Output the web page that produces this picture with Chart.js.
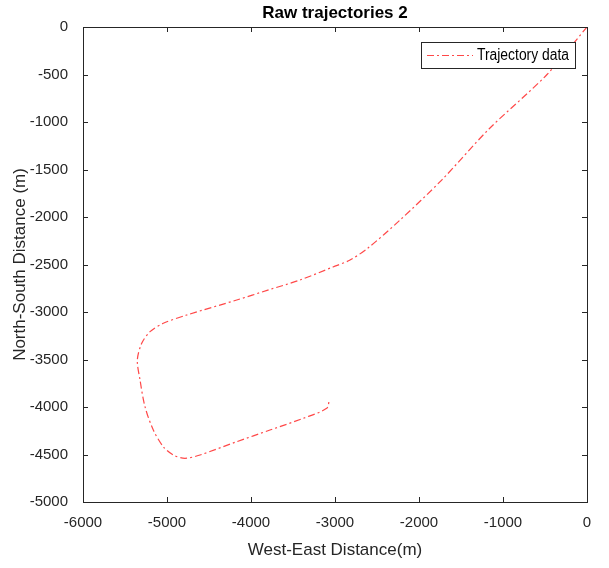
<!DOCTYPE html>
<html>
<head>
<meta charset="utf-8">
<script src="https://cdn.jsdelivr.net/npm/chart.js@4/dist/chart.umd.min.js"></script>
<style>
  html, body { margin: 0; padding: 0; background: #fff; }
  #wrap { width: 609px; height: 568px; }
</style>
</head>
<body>
<div id="wrap"><canvas id="trajChart" width="609" height="568"></canvas></div>
<script>
// trajectory points (metres)
const eastWest = [0, -476, -1167, -1730, -2226, -2607, -2821, -3024, -3417, -3800, -4170, -4766, -5044, -5202, -5301, -5353, -5321, -5262, -5163, -5044, -4925, -4786, -4607, -4170, -3774, -3377, -3099, -3068];
const northSouth = [0, -500, -1074, -1611, -2032, -2326, -2453, -2526, -2663, -2770, -2874, -3032, -3119, -3207, -3330, -3505, -3716, -3997, -4242, -4418, -4505, -4540, -4505, -4365, -4242, -4119, -4014, -3926];
const seriesName = 'Trajectory data';
const chartTitle = 'Raw trajectories 2';

const points = eastWest.map((x, i) => ({ x: x, y: northSouth[i] }));
const inkColor = '#262626';
const lineColor = 'rgba(255,40,40,0.85)';
const fontFamily = '"Liberation Sans", Arial, sans-serif';

// frame, inward ticks, title and legend box, MATLAB style
const framePlugin = {
  id: 'frame',
  afterDraw(chart) {
    const c = chart.ctx;
    const a = chart.chartArea;
    const xs = chart.scales.x, ys = chart.scales.y;
    c.save();
    c.strokeStyle = inkColor;
    c.lineWidth = 1;
    c.strokeRect(a.left + 0.5, a.top + 0.5, a.right - a.left, a.bottom - a.top);
    c.beginPath();
    xs.ticks.forEach(t => {
      const px = Math.round(xs.getPixelForValue(t.value)) + 0.5;
      c.moveTo(px, a.bottom); c.lineTo(px, a.bottom - 5);
      c.moveTo(px, a.top); c.lineTo(px, a.top + 5);
    });
    ys.ticks.forEach(t => {
      const py = Math.round(ys.getPixelForValue(t.value)) + 0.5;
      c.moveTo(a.left, py); c.lineTo(a.left + 5, py);
      c.moveTo(a.right, py); c.lineTo(a.right - 5, py);
    });
    c.stroke();

    // title
    c.fillStyle = '#000';
    c.font = 'bold 17px ' + fontFamily;
    c.textAlign = 'center';
    c.textBaseline = 'middle';
    c.fillText(chartTitle, (a.left + a.right) / 2, 13);

    // legend
    const lx = 421, ly = 42, lw = 154, lh = 26;
    c.fillStyle = '#fff';
    c.fillRect(lx, ly, lw, lh);
    c.strokeStyle = inkColor;
    c.strokeRect(lx + 0.5, ly + 0.5, lw, lh);
    c.strokeStyle = lineColor;
    c.setLineDash([7, 3, 2, 3]);
    c.beginPath();
    c.moveTo(lx + 6, ly + 13.5); c.lineTo(lx + 52, ly + 13.5);
    c.stroke();
    c.setLineDash([]);
    c.fillStyle = '#000';
    c.font = '16px ' + fontFamily;
    c.textAlign = 'left';
    // the reference font is condensed: squeeze the text to its width
    const tw = c.measureText(seriesName).width;
    const sx = Math.min(1, 92 / tw);
    c.translate(lx + 56, ly + 14);
    c.scale(sx, 1);
    c.fillText(seriesName, 0, 0);
    c.restore();
  }
};

new Chart(document.getElementById('trajChart'), {
  type: 'scatter',
  data: {
    datasets: [{
      label: seriesName,
      data: points,
      showLine: true,
      borderColor: lineColor,
      borderWidth: 1.2,
      borderDash: [7, 3, 2, 3],
      pointRadius: 0,
      tension: 0.3
    }]
  },
  options: {
    responsive: false,
    animation: false,
    layout: { padding: { top: 27, right: 22, left: 0, bottom: 0 } },
    plugins: {
      legend: { display: false },
      title: { display: false },
      tooltip: { enabled: false }
    },
    scales: {
      x: {
        type: 'linear',
        min: -6000,
        max: 0,
        ticks: { stepSize: 1000, color: inkColor, font: { size: 15, family: fontFamily }, padding: 4, maxRotation: 0, callback: v => String(v) },
        grid: { display: false },
        border: { display: false },
        title: { display: true, text: 'West-East Distance(m)', color: inkColor, font: { size: 17, family: fontFamily }, padding: { top: 0, bottom: 7 } },
        afterFit(scale) { scale.height = 66; }
      },
      y: {
        type: 'linear',
        min: -5000,
        max: 0,
        ticks: { stepSize: 500, color: inkColor, font: { size: 15, family: fontFamily }, padding: 7, callback: v => String(v) },
        grid: { display: false },
        border: { display: false },
        title: { display: true, text: 'North-South Distance (m)', color: inkColor, font: { size: 17, family: fontFamily }, padding: { top: 10, bottom: 0 } },
        afterFit(scale) { scale.width = 83; }
      }
    }
  },
  plugins: [framePlugin]
});
</script>
</body>
</html>
